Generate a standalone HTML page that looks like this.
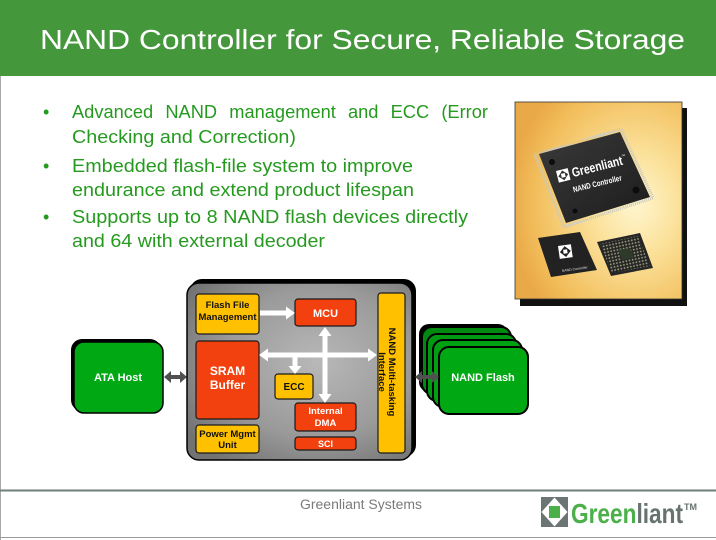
<!DOCTYPE html>
<html><head><meta charset="utf-8">
<style>
html,body{margin:0;padding:0;background:#fff;}
svg{display:block;}
text{font-family:"Liberation Sans",Arial,sans-serif;}
</style></head>
<body>
<svg width="716" height="540" viewBox="0 0 716 540" xmlns="http://www.w3.org/2000/svg">
<defs>
  <radialGradient id="chipg" cx="0.58" cy="0.45" r="0.7">
    <stop offset="0" stop-color="#b8b8b8"/>
    <stop offset="0.6" stop-color="#9a9a9a"/>
    <stop offset="1" stop-color="#727272"/>
  </radialGradient>
  <radialGradient id="photog" cx="0.72" cy="0.52" r="0.75">
    <stop offset="0" stop-color="#fff6cf"/>
    <stop offset="0.35" stop-color="#fbe19a"/>
    <stop offset="0.8" stop-color="#f2be5c"/>
    <stop offset="1" stop-color="#eaa948"/>
  </radialGradient>
  <linearGradient id="bigchip" x1="0" y1="0" x2="1" y2="1">
    <stop offset="0" stop-color="#3a3a3a"/>
    <stop offset="1" stop-color="#1c1c1c"/>
  </linearGradient>
  <pattern id="dots" x="0" y="0" width="3.2" height="3.2" patternUnits="userSpaceOnUse" patternTransform="rotate(-12)">
    <circle cx="1.6" cy="1.6" r="0.9" fill="#9a9a7a"/>
  </pattern>
</defs>

<!-- page borders -->
<rect x="0" y="0" width="716" height="540" fill="#fff"/>
<line x1="0.5" y1="76" x2="0.5" y2="540" stroke="#a8a8a8" stroke-width="1"/>
<line x1="0" y1="537.5" x2="716" y2="537.5" stroke="#9a9a9a" stroke-width="1"/>

<!-- header -->
<rect x="0" y="0" width="716" height="76" fill="#45973c"/>
<text x="40" y="49" font-size="28" fill="#ffffff" textLength="645" lengthAdjust="spacingAndGlyphs">NAND Controller for Secure, Reliable Storage</text>

<!-- bullets -->
<g fill="#259a1f" font-size="18">
  <text x="43" y="118">•</text>
  <text x="72" y="118" word-spacing="7" textLength="416" lengthAdjust="spacingAndGlyphs">Advanced NAND management and ECC (Error</text>
  <text x="72" y="143" textLength="224" lengthAdjust="spacingAndGlyphs">Checking and Correction)</text>
  <text x="43" y="172">•</text>
  <text x="72" y="172" textLength="341" lengthAdjust="spacingAndGlyphs">Embedded flash-file system to improve</text>
  <text x="72" y="196" textLength="342" lengthAdjust="spacingAndGlyphs">endurance and extend product lifespan</text>
  <text x="43" y="223">•</text>
  <text x="72" y="223" textLength="396" lengthAdjust="spacingAndGlyphs">Supports up to 8 NAND flash devices directly</text>
  <text x="72" y="247" textLength="253" lengthAdjust="spacingAndGlyphs">and 64 with external decoder</text>
</g>

<!-- photo -->
<rect x="520" y="108" width="167" height="198" fill="#111"/>
<rect x="515" y="102" width="167" height="197" fill="url(#photog)" stroke="#333" stroke-width="0.8"/>
<!-- big chip -->
<polygon points="535,155 621,129 653,198 564,227" fill="none" stroke="#c8c8c0" stroke-width="3" stroke-dasharray="1 1"/>
<polygon points="539,154 620,132 650,197 566,223" fill="url(#bigchip)"/>
<circle cx="552" cy="162" r="3" fill="#0c0c0c"/>
<circle cx="636" cy="190" r="3.5" fill="#0c0c0c"/>
<circle cx="575" cy="211" r="2.5" fill="#0c0c0c"/>
<g transform="translate(556,171) rotate(-14)">
  <rect x="0" y="0" width="12" height="12" fill="#fff"/>
  <polygon points="6,1 11,6 6,11 1,6" fill="#333"/>
  <rect x="4" y="4" width="4" height="4" fill="#fff"/>
  <text x="15" y="10" font-size="13" font-weight="bold" fill="#fff" textLength="52" lengthAdjust="spacingAndGlyphs">Greenliant</text>
  <text x="67" y="3" font-size="4" fill="#fff">™</text>
  <text x="12" y="25" font-size="8" font-weight="bold" fill="#fff" textLength="50" lengthAdjust="spacingAndGlyphs">NAND Controller</text>
</g>
<!-- small chip -->
<polygon points="538,238 580,232 597,270 551,277" fill="#222"/>
<g transform="translate(558,246) rotate(-8)">
  <rect x="0" y="0" width="13" height="13" fill="#fff"/>
  <polygon points="6.5,1 12,6.5 6.5,12 1,6.5" fill="#222"/>
  <rect x="4.5" y="4.5" width="4" height="4" fill="#fff"/>
</g>
<text x="562" y="272" font-size="3.5" fill="#ddd" transform="rotate(-8 562 272)">NAND Controller</text>
<!-- BGA chip -->
<polygon points="597,242 640,233 653,268 611,276" fill="#262626"/>
<polygon points="600,244 638,236 650,266 612,273" fill="url(#dots)"/>
<polygon points="618,250 630,248 634,258 622,260" fill="#2e3a2a"/>

<!-- ================= DIAGRAM ================= -->
<!-- ATA host -->
<rect x="71" y="339" width="90" height="72" rx="11" fill="#000"/>
<rect x="74" y="342" width="89" height="71" rx="10" fill="#00a813" stroke="#000" stroke-width="1.5"/>
<text x="118" y="381" font-size="11" font-weight="bold" fill="#fff" text-anchor="middle">ATA  Host</text>

<!-- ATA arrow -->
<polygon points="164,377 171,371 171,375 180,375 180,371 187,377 180,383 180,379 171,379 171,383" fill="#505050"/>

<!-- main chip -->
<rect x="190" y="279" width="226" height="178" rx="12" fill="#000"/>
<rect x="187" y="283" width="225" height="177" rx="12" fill="url(#chipg)" stroke="#000" stroke-width="1.5"/>

<!-- yellow boxes -->
<rect x="196" y="294" width="63" height="40" rx="3" fill="#ffc000" stroke="#1a1a1a" stroke-width="1.2"/>
<text x="227.5" y="308" font-size="9.5" font-weight="bold" fill="#111" text-anchor="middle">Flash File</text>
<text x="227.5" y="320" font-size="9.5" font-weight="bold" fill="#111" text-anchor="middle">Management</text>

<rect x="196" y="425" width="63" height="28" rx="3" fill="#ffc000" stroke="#1a1a1a" stroke-width="1.2"/>
<text x="227.5" y="437" font-size="9.5" font-weight="bold" fill="#111" text-anchor="middle">Power Mgmt</text>
<text x="227.5" y="448" font-size="9.5" font-weight="bold" fill="#111" text-anchor="middle">Unit</text>

<rect x="275" y="374" width="38" height="25" rx="3" fill="#ffc000" stroke="#1a1a1a" stroke-width="1.2"/>
<text x="294" y="390" font-size="10" font-weight="bold" fill="#111" text-anchor="middle">ECC</text>

<rect x="378" y="293" width="27" height="160" rx="3" fill="#ffc000" stroke="#1a1a1a" stroke-width="1.2"/>
<text transform="translate(389,372) rotate(90)" font-size="9.5" font-weight="bold" fill="#111" text-anchor="middle">NAND  Multi-tasking</text>
<text transform="translate(379,372) rotate(90)" font-size="9.5" font-weight="bold" fill="#111" text-anchor="middle">Interface</text>

<!-- red boxes -->
<rect x="295" y="299" width="61" height="27" rx="3" fill="#f2400e" stroke="#1a1a1a" stroke-width="1.2"/>
<text x="325.5" y="317" font-size="11" font-weight="bold" fill="#fff" text-anchor="middle">MCU</text>

<rect x="196" y="341" width="63" height="78" rx="3" fill="#f2400e" stroke="#1a1a1a" stroke-width="1.2"/>
<text x="227.5" y="375" font-size="12" font-weight="bold" fill="#fff" text-anchor="middle">SRAM</text>
<text x="227.5" y="389" font-size="12" font-weight="bold" fill="#fff" text-anchor="middle">Buffer</text>

<rect x="295" y="403" width="61" height="28" rx="3" fill="#f2400e" stroke="#1a1a1a" stroke-width="1.2"/>
<text x="325.5" y="414" font-size="9.5" font-weight="bold" fill="#fff" text-anchor="middle">Internal</text>
<text x="325.5" y="426" font-size="9.5" font-weight="bold" fill="#fff" text-anchor="middle">DMA</text>

<rect x="295" y="437" width="61" height="13" rx="3" fill="#f2400e" stroke="#1a1a1a" stroke-width="1.2"/>
<text x="325.5" y="447" font-size="9" font-weight="bold" fill="#fff" text-anchor="middle">SCI</text>

<!-- white arrows -->
<g fill="#ffffff">
  <polygon points="260,310.5 286,310.5 286,306.5 295,313 286,319.5 286,315.5 260,315.5"/>
  <polygon points="259,355 268,348.5 268,352.5 368,352.5 368,348.5 377,355 368,361.5 368,357.5 268,357.5 268,361.5"/>
  <polygon points="325,327 331.5,336 327.5,336 327.5,394 331.5,394 325,403 318.5,394 322.5,394 322.5,336 318.5,336"/>
  <polygon points="292.5,355 297.5,355 297.5,366 301.5,366 295,374 288.5,366 292.5,366"/>
</g>

<!-- NAND flash stack -->
<rect x="419" y="324" width="89" height="68" rx="10" fill="#000"/>
<rect x="422" y="327" width="89" height="67" rx="10" fill="#008a10" stroke="#000" stroke-width="2"/>
<rect x="427" y="334" width="89" height="67" rx="10" fill="#009a12" stroke="#000" stroke-width="2"/>
<rect x="433" y="340" width="89" height="67" rx="10" fill="#00a013" stroke="#000" stroke-width="2"/>
<rect x="439" y="347" width="89" height="67" rx="10" fill="#00a813" stroke="#000" stroke-width="2"/>
<text x="483" y="381" font-size="11" font-weight="bold" fill="#fff" text-anchor="middle">NAND  Flash</text>

<!-- NAND arrow -->
<polygon points="415,377 422,371 422,375 432,375 432,371 439,377 432,383 432,379 422,379 422,383" fill="#505050"/>

<!-- footer -->
<rect x="0" y="489.5" width="716" height="2" fill="#6f7f78"/>
<text x="300" y="509" font-size="13.5" fill="#7a7a7a" textLength="122" lengthAdjust="spacingAndGlyphs">Greenliant Systems</text>
<!-- logo -->
<rect x="541" y="497" width="27" height="30" fill="#6b7674"/>
<polygon points="554.5,497.5 567.5,512 554.5,526.5 541.5,512" fill="#fff"/>
<rect x="549" y="506" width="11" height="12" fill="#4cb04a"/>
<text x="571" y="523" font-size="28" font-weight="bold" textLength="112" lengthAdjust="spacingAndGlyphs"><tspan fill="#4cb04a">Green</tspan><tspan fill="#66736f">liant</tspan></text>
<text x="684" y="510" font-size="9" font-weight="bold" fill="#66736f">TM</text>
</svg>
</body></html>
